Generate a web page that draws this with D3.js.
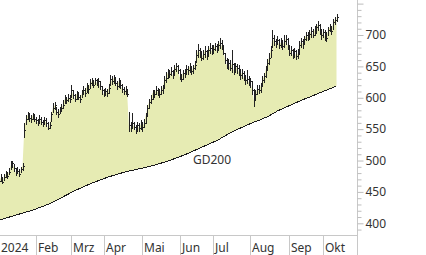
<!DOCTYPE html>
<html>
<head>
<meta charset="utf-8">
<script src="https://d3js.org/d3.v7.min.js"></script>
<style>
  body { margin:0; background:#fff; }
  svg { display:block; font-family:"Noto Sans", "Open Sans", sans-serif; }
  .lbl { font-size:12px; fill:#333; }
</style>
</head>
<body>
<script>

  // daily bars, one value per trading day (Jan 2 .. early Oct 2024)
  var closes = [
    468,472,466,474,478,476,482,492,496,488,480,484,478,486,492,548,566,572,568,566,
    572,566,564,560,566,562,558,564,560,552,556,574,584,588,578,574,580,584,588,598,
    596,600,598,612,604,598,606,602,598,606,612,608,618,614,624,626,620,628,624,626,
    618,612,606,610,608,616,630,626,632,624,618,626,620,614,610,612,606,556,552,560,
    554,548,556,552,558,554,560,572,584,594,598,608,606,612,610,606,612,616,628,632,
    640,638,642,636,646,650,644,634,630,640,638,646,644,650,642,648,652,668,676,672,
    664,670,674,666,676,680,674,678,682,676,684,688,682,672,660,652,656,648,654,644,
    650,648,642,636,640,632,628,630,624,626,612,596,606,614,612,618,628,634,644,656,
    664,676,696,690,686,692,684,688,682,690,694,684,672,676,668,674,666,670,684,690,
    686,694,700,696,702,706,700,708,712,716,708,700,704,698,696,708,712,706,720,724,
    728
  ];
  var highs = [
    474,478,473,479,484,482,488,500,500,494,488,490,486,490,496,560,572,577,575,572,
    576,574,570,566,572,569,565,570,567,562,562,578,592,593,586,582,586,590,596,604,
    602,606,604,620,612,606,610,609,604,612,618,616,623,620,630,631,628,632,630,631,
    626,618,614,616,614,622,636,634,637,633,626,631,628,622,617,618,614,578,562,575,
    562,556,562,560,564,562,566,576,588,598,604,613,612,619,616,614,618,620,634,641,
    646,644,649,644,652,655,652,646,638,644,646,652,650,655,650,653,658,676,686,680,
    674,676,682,676,682,687,684,684,688,686,690,695,692,684,672,664,662,660,676,656,
    656,654,652,646,646,642,636,644,634,632,626,614,612,620,620,624,634,640,650,662,
    671,682,708,700,694,698,694,695,692,700,700,696,684,682,678,680,676,678,690,695,
    694,699,705,704,708,712,710,714,718,722,718,710,710,708,704,712,717,714,726,729,
    733
  ];
  var lows = [
    462,466,462,468,472,471,477,485,488,482,476,478,474,480,484,536,556,564,562,560,
    564,561,558,555,558,556,553,558,554,548,550,562,576,580,572,568,574,578,582,590,
    590,593,591,600,598,593,596,596,592,600,604,602,608,606,614,619,616,620,618,616,
    612,604,601,603,602,606,618,620,622,618,612,616,614,608,604,605,602,546,545,552,
    548,543,546,545,548,546,552,558,570,582,590,596,600,604,603,600,604,606,614,624,
    630,631,634,630,636,641,638,628,625,628,632,636,637,640,636,638,644,656,664,664,
    658,660,664,660,666,670,668,670,674,671,674,678,676,668,654,646,645,642,640,636,
    640,638,634,628,630,626,620,622,618,616,604,585,596,604,606,608,618,624,632,644,
    652,664,680,682,679,684,678,680,676,680,684,676,666,666,662,664,660,662,670,680,
    678,684,690,690,692,696,695,698,702,706,700,692,696,690,689,698,704,700,708,716,
    720
  ];

  // 200-day moving average, read every 5th trading day
  var gdDays = [0,5,10,15,20,25,30,35,40,45,50,55,60,65,70,75,80,85,90,95,100,
                105,110,115,120,125,130,135,140,145,150,155,160,165,170,175,180,185,190,195,200];
  var gd200 = [405,409,413,417,421,426,431,438,445,452,458,464,469,474,478,482,485,488,491,495,499,
               504,509,515,521,527,533,541,548,554,560,565,571,579,585,591,597,602,608,613,619];

  var monthLabels = ["2024","Feb","Mrz","Apr","Mai","Jun","Jul","Aug","Sep","Okt"];
  var monthStart = [0,22,43,62,85,107,127,149,172,192];
  var yLabels = [400,450,500,550,600,650,700];

  var W = 426, H = 255, plotR = 357, plotB = 235;

  var svg = d3.select("body").append("svg")
    .attr("width", W)
    .attr("height", H);

  var x = d3.scaleLinear().domain([0, 200]).range([-1.1, 336.5]);
  var y = d3.scaleLinear().domain([400, 700]).range([223.3, 35]);

  svg.append("clipPath").attr("id", "plot")
    .append("rect").attr("x", 0).attr("y", 0).attr("width", plotR).attr("height", plotB);

  var plot = svg.append("g").attr("clip-path", "url(#plot)");

  // fill between price and GD200
  var topLine = d3.line()(closes.map((c, i) => [x(i), y(c)]));
  var botLine = d3.line()(gdDays.map((d, k) => [x(d), y(gd200[k])]).reverse());
  plot.append("path")
    .attr("d", topLine + "L" + botLine.slice(1) + "Z")
    .attr("fill", "#e6ebb3");

  // GD200 line
  plot.append("path")
    .datum(gdDays)
    .attr("d", d3.line().x(d => x(d)).y((d, k) => y(gd200[k])))
    .attr("fill", "none")
    .attr("stroke", "#1a1a1a")
    .attr("stroke-width", 1)
    .attr("shape-rendering", "crispEdges");

  // OHLC style bars
  var bars = plot.append("g")
    .attr("stroke", "#222")
    .attr("stroke-width", 1)
    .attr("shape-rendering", "crispEdges");

  bars.selectAll(".hl")
    .data(closes)
    .enter().append("line")
    .attr("class", "hl")
    .attr("x1", (d, i) => Math.round(x(i)) + 0.5)
    .attr("x2", (d, i) => Math.round(x(i)) + 0.5)
    .attr("y1", (d, i) => y(highs[i]))
    .attr("y2", (d, i) => y(lows[i]));

  bars.selectAll(".cl")
    .data(closes)
    .enter().append("line")
    .attr("class", "cl")
    .attr("x1", (d, i) => Math.round(x(i)) + 0.5)
    .attr("x2", (d, i) => Math.round(x(i)) + 2)
    .attr("y1", d => Math.round(y(d)) + 0.5)
    .attr("y2", d => Math.round(y(d)) + 0.5);

  svg.append("text")
    .attr("class", "lbl")
    .attr("x", 193)
    .attr("y", 164)
    .text("GD200");

  // frame
  svg.append("line")
    .attr("x1", 0).attr("x2", plotR + 0.5)
    .attr("y1", plotB + 0.5).attr("y2", plotB + 0.5)
    .attr("stroke", "#c8c8c8");
  svg.append("line")
    .attr("x1", plotR + 0.5).attr("x2", plotR + 0.5)
    .attr("y1", 0).attr("y2", H)
    .attr("stroke", "#c8c8c8");

  // right axis
  var minor = d3.range(390, 760, 10).filter(v => y(v) >= 0 && y(v) <= plotB);
  var yAxis = d3.axisRight(y)
    .tickValues(minor)
    .tickSizeOuter(0)
    .tickSize(4)
    .tickPadding(4)
    .tickFormat(d => yLabels.indexOf(d) >= 0 ? d : "");

  var ya = svg.append("g")
    .attr("transform", "translate(" + (plotR + 0.5) + ",0)")
    .call(yAxis);
  ya.select(".domain").remove();
  ya.selectAll("line").attr("stroke", "#bdbdbd");
  ya.selectAll(".tick").filter(d => d % 50 === 0).select("line").attr("x2", 6);
  ya.selectAll("text")
    .attr("class", "lbl")
    .attr("x", 8)
    .attr("fill", "#333")
    .style("font-size", "12px")
    .style("font-family", "'Noto Sans', sans-serif");

  // bottom month axis
  var xa = svg.append("g");
  xa.selectAll(".sep")
    .data(monthStart.slice(1))
    .enter().append("line")
    .attr("class", "sep")
    .attr("x1", d => Math.round(x(d)) + 0.5)
    .attr("x2", d => Math.round(x(d)) + 0.5)
    .attr("y1", plotB)
    .attr("y2", H)
    .attr("stroke", "#c8c8c8");

  xa.selectAll(".mlbl")
    .data(monthLabels)
    .enter().append("text")
    .attr("class", "lbl")
    .attr("x", (d, k) => k === 0 ? 1 : Math.round(x(monthStart[k])) + 2)
    .attr("y", 252)
    .text(d => d);

</script>
</body>
</html>
